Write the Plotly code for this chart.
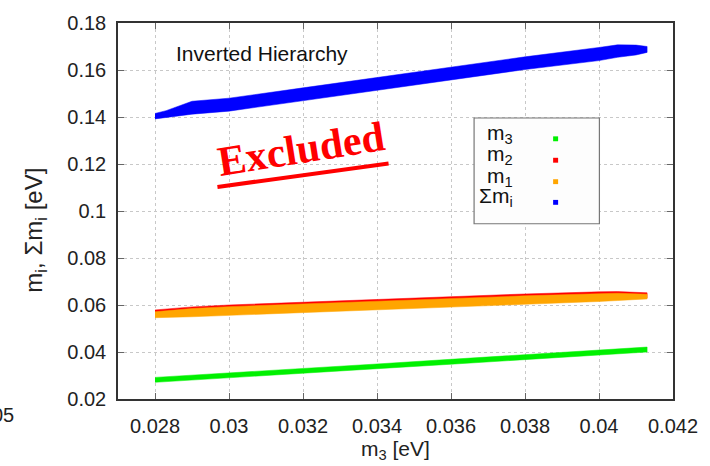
import plotly.graph_objects as go

# ---- data ----
m3_x = [0.028, 0.030, 0.032, 0.034, 0.036, 0.038, 0.040, 0.0413]
m3_lo = [0.0271, 0.0290, 0.0310, 0.0329, 0.0348, 0.0368, 0.0388, 0.0400]
m3_hi = [0.0292, 0.0310, 0.0330, 0.0349, 0.0369, 0.0388, 0.0407, 0.0421]

m2_x = [0.028, 0.029, 0.030, 0.032, 0.034, 0.036, 0.038, 0.040, 0.0405, 0.0413]
m2_lo = [0.0552, 0.0556, 0.0560, 0.0572, 0.0584, 0.0597, 0.0609, 0.0621, 0.0625, 0.0630]
m2_hi = [0.0579, 0.0592, 0.0600, 0.0612, 0.0624, 0.0636, 0.0647, 0.0656, 0.0657, 0.0652]

m1_x = [0.028, 0.029, 0.030, 0.032, 0.034, 0.036, 0.038, 0.040, 0.0405, 0.0413]
m1_lo = [0.0546, 0.0550, 0.0554, 0.0566, 0.0578, 0.0591, 0.0603, 0.0615, 0.0619, 0.0626]
m1_hi = [0.0571, 0.0585, 0.0593, 0.0605, 0.0617, 0.0628, 0.0639, 0.0648, 0.0650, 0.0646]

sum_x = [0.028, 0.0283, 0.029, 0.030, 0.032, 0.034, 0.036, 0.038, 0.040, 0.0405, 0.041, 0.0413]
sum_lo = [0.1392, 0.1396, 0.1412, 0.1425, 0.1469, 0.1514, 0.1558, 0.1602, 0.1640, 0.1654, 0.1664, 0.1675]
sum_hi = [0.1415, 0.1427, 0.1467, 0.1480, 0.1524, 0.1568, 0.1612, 0.1656, 0.1696, 0.1707, 0.1706, 0.1700]

x_ticks = [0.028, 0.030, 0.032, 0.034, 0.036, 0.038, 0.040, 0.042]
x_ticktext = ["0.028", "0.03", "0.032", "0.034", "0.036", "0.038", "0.04", "0.042"]
y_ticks = [0.02, 0.04, 0.06, 0.08, 0.10, 0.12, 0.14, 0.16, 0.18]
y_ticktext = ["0.02", "0.04", "0.06", "0.08", "0.1", "0.12", "0.14", "0.16", "0.18"]

series = [
    ("m<sub>3</sub>", m3_x, m3_lo, m3_hi, "#00f000"),
    ("m<sub>2</sub>", m2_x, m2_lo, m2_hi, "#ff0000"),
    ("m<sub>1</sub>", m1_x, m1_lo, m1_hi, "#ffa500"),
    ("Σm<sub>i</sub>", sum_x, sum_lo, sum_hi, "#0000ff"),
]

FONT = "Liberation Sans, Arial, sans-serif"
fig = go.Figure()
for name, xs, lo, hi, col in series:
    fig.add_trace(go.Scatter(
        x=list(xs) + list(xs)[::-1],
        y=list(hi) + list(lo)[::-1],
        fill="toself", fillcolor=col, mode="lines",
        line=dict(color=col, width=0.5), name=name, showlegend=False,
        hoverinfo="skip"))

axis_common = dict(
    showline=True, linecolor="#333333", linewidth=1.5, mirror="ticks",
    ticks="inside", ticklen=6, tickcolor="#666666", tickwidth=1,
    showgrid=True, gridcolor="#c8c8c8", gridwidth=1, griddash="dot",
    zeroline=False, tickfont=dict(family=FONT, size=20, color="#222222"),
)
fig.update_xaxes(range=[0.027, 0.042], tickvals=x_ticks, ticktext=x_ticktext,
                 ticklabelstandoff=8, **axis_common)
fig.update_yaxes(range=[0.02, 0.18], tickvals=y_ticks, ticktext=y_ticktext,
                 ticklabelstandoff=6, **axis_common)

ann = []
# axis titles
ann.append(dict(text="m<sub>3</sub> [eV]", xref="paper", yref="paper",
                x=0.5, y=-0.135, xanchor="center", yanchor="middle",
                showarrow=False, font=dict(family=FONT, size=21, color="#222222")))
ann.append(dict(text="m<sub>i</sub>, Σm<sub>i</sub> [eV]", xref="paper", yref="paper",
                x=-0.148, y=0.45, xanchor="center", yanchor="middle", textangle=-90,
                showarrow=False, font=dict(family=FONT, size=24, color="#222222")))
# stray fragment on the left edge
ann.append(dict(text="05", xref="paper", yref="paper", x=-0.183, y=-0.042,
                xanchor="right", yanchor="middle", showarrow=False,
                font=dict(family=FONT, size=20, color="#222222")))
# labels in plot
ann.append(dict(text="Inverted Hierarchy", xref="paper", yref="paper",
                x=0.100, y=0.92, xanchor="left", yanchor="middle", showarrow=False,
                font=dict(family=FONT, size=21, color="#111111")))
ann.append(dict(text="<b>Excluded</b>", xref="paper", yref="paper",
                x=0.330, y=0.665, xanchor="center", yanchor="middle", textangle=-9,
                showarrow=False,
                font=dict(family="Liberation Serif, Times New Roman, serif", size=42,
                          color="#ff0000")))

shapes = []
# underline of "Excluded"
shapes.append(dict(type="line", xref="paper", yref="paper",
                   x0=0.1792, y0=0.5640, x1=0.4875, y1=0.6265,
                   line=dict(color="#ff0000", width=4)))

# custom legend (gnuplot style: text left, sample on the right)
box = dict(x0=0.6416, x1=0.8674, y0=0.4661, y1=0.7474)
shapes.append(dict(type="rect", xref="paper", yref="paper", layer="above",
                   fillcolor="#fdfdfd", line=dict(color="#777777", width=1.2), **box))
leg_text_y = [0.705, 0.648, 0.591, 0.536]
leg_mark_y = [0.692, 0.635, 0.578, 0.523]
for (name, xs, lo, hi, col), ty, my in zip(series, leg_text_y, leg_mark_y):
    ann.append(dict(text=name, xref="paper", yref="paper", x=0.716, y=ty,
                    xanchor="right", yanchor="middle", showarrow=False,
                    font=dict(family=FONT, size=21, color="#111111")))
    shapes.append(dict(type="rect", xref="paper", yref="paper", layer="above",
                       x0=0.7840, x1=0.7930, y0=my - 0.0065, y1=my + 0.0065,
                       fillcolor=col, line=dict(width=0)))

fig.update_layout(
    width=710, height=466,
    margin=dict(l=118, r=34, t=15, b=67),
    plot_bgcolor="white", paper_bgcolor="white",
    showlegend=False, annotations=ann, shapes=shapes,
)
fig.write_html("out.html")
